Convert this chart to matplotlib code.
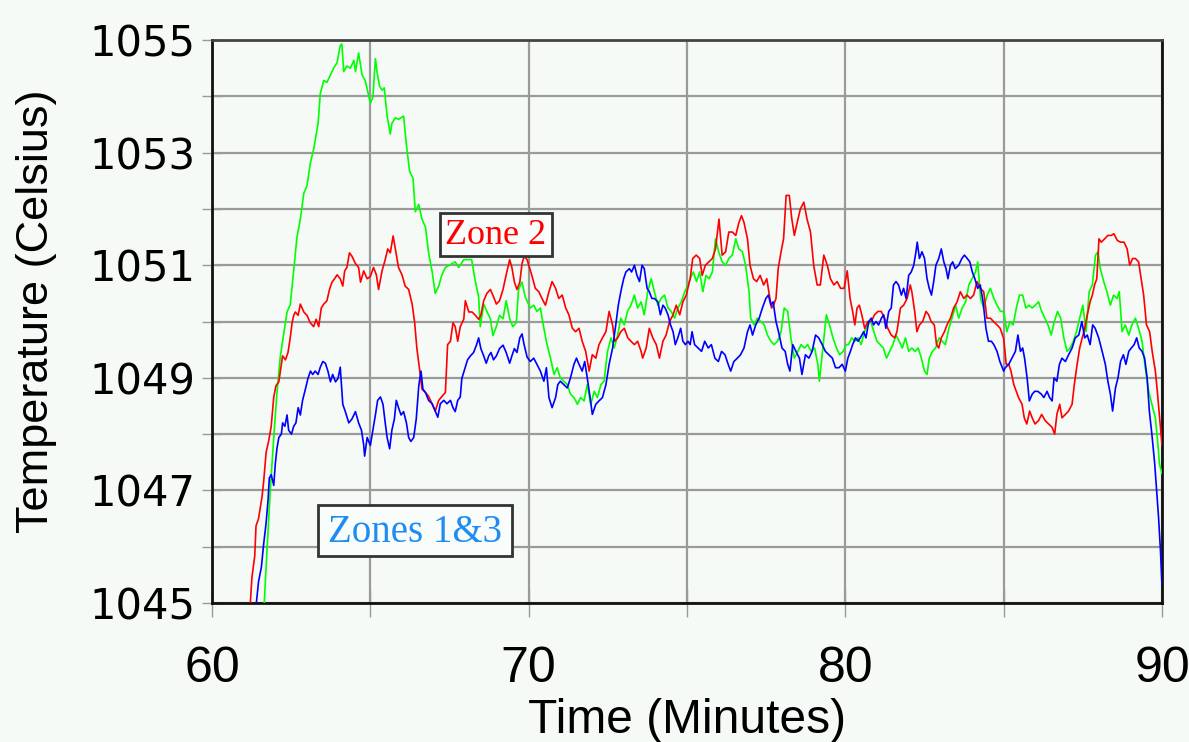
import matplotlib
matplotlib.use("Agg")
import matplotlib.pyplot as plt
from matplotlib.patches import Rectangle
from matplotlib.ticker import MultipleLocator

# ---- data (minutes, deg C) ----
green_t = [61.65, 61.74, 61.84, 61.95, 62.05, 62.16, 62.23, 62.37, 62.47, 62.58, 62.68, 62.79, 62.9, 63.0,
           63.1, 63.21, 63.35, 63.42, 63.53, 63.63, 63.74, 63.84, 63.95, 64.05, 64.1, 64.16, 64.26, 64.37,
           64.48, 64.53, 64.63, 64.74, 64.84, 65.0, 65.08, 65.16, 65.21, 65.29, 65.37, 65.44, 65.53, 65.63,
           65.68, 65.79, 65.89, 66.05, 66.14, 66.24, 66.35, 66.42, 66.53, 66.63, 66.74, 66.84, 66.95, 67.05,
           67.16, 67.26, 67.37, 67.68, 67.79, 67.95, 68.2, 68.32, 68.42, 68.47, 68.58, 68.68, 68.79, 68.87,
           68.98, 69.08, 69.19, 69.29, 69.4, 69.5, 69.61, 69.68, 69.79, 69.89, 70.05, 70.16, 70.26, 70.37,
           70.48, 70.58, 70.69, 70.8, 70.9, 71.0, 71.11, 71.22, 71.32, 71.43, 71.54, 71.64, 71.75, 71.85,
           71.96, 72.07, 72.17, 72.28, 72.38, 72.49, 72.6, 72.7, 72.81, 72.91, 73.02, 73.12, 73.23, 73.34,
           73.44, 73.55, 73.65, 73.76, 73.87, 73.97, 74.08, 74.18, 74.29, 74.4, 74.5, 74.61, 74.71, 74.82,
           74.93, 75.03, 75.1, 75.2, 75.3, 75.4, 75.5, 75.6, 75.7, 75.8, 75.9, 76.0, 76.11, 76.22, 76.32,
           76.43, 76.54, 76.64, 76.75, 76.85, 76.96, 77.01, 77.12, 77.22, 77.33, 77.44, 77.54, 77.65, 77.75,
           77.86, 77.97, 78.07, 78.18, 78.28, 78.39, 78.5, 78.6, 78.71, 78.81, 78.92, 79.03, 79.13, 79.18,
           79.29, 79.4, 79.5, 79.61, 79.72, 79.82, 79.93, 80.03, 80.1, 80.2, 80.3, 80.4, 80.5, 80.6, 80.7,
           80.8, 80.9, 81.0, 81.1, 81.2, 81.3, 81.4, 81.5, 81.6, 81.7, 81.8, 81.9, 82.0, 82.1, 82.2, 82.3,
           82.4, 82.5, 82.58, 82.65, 82.75, 82.85, 82.96, 83.06, 83.16, 83.27, 83.37, 83.48, 83.58, 83.69,
           83.8, 83.9, 84.0, 84.11, 84.18, 84.27, 84.37, 84.48, 84.58, 84.69, 84.79, 84.9, 85.0, 85.1, 85.2,
           85.3, 85.4, 85.5, 85.6, 85.7, 85.8, 85.9, 86.0, 86.1, 86.2, 86.3, 86.4, 86.5, 86.6, 86.7, 86.8,
           86.9, 87.0, 87.1, 87.2, 87.3, 87.4, 87.5, 87.6, 87.7, 87.8, 87.9, 87.98, 88.05, 88.16, 88.26,
           88.37, 88.47, 88.58, 88.65, 88.74, 88.84, 88.95, 89.05, 89.16, 89.26, 89.37, 89.47, 89.58, 89.68,
           89.79, 89.87, 89.92, 90.0]
green_temp = [1045.0, 1045.97, 1047.0, 1047.94, 1048.73, 1049.39, 1049.65, 1050.17, 1050.3, 1050.9, 1051.49,
              1051.82, 1052.28, 1052.41, 1052.8, 1053.06, 1053.52, 1054.05, 1054.28, 1054.25, 1054.38, 1054.5,
              1054.6, 1054.9, 1054.93, 1054.44, 1054.54, 1054.5, 1054.64, 1054.44, 1054.77, 1054.38, 1054.28,
              1053.88, 1053.98, 1054.67, 1054.44, 1054.18, 1054.11, 1054.15, 1053.65, 1053.33, 1053.52,
              1053.62, 1053.59, 1053.65, 1053.13, 1052.67, 1052.54, 1051.95, 1052.08, 1051.82, 1051.68,
              1051.22, 1050.89, 1050.5, 1050.63, 1050.83, 1050.96, 1051.06, 1050.96, 1051.1, 1051.1, 1050.7,
              1050.44, 1049.91, 1050.31, 1050.18, 1050.05, 1049.75, 1049.91, 1050.11, 1050.05, 1050.37,
              1050.05, 1049.91, 1049.98, 1050.57, 1050.7, 1050.44, 1050.24, 1050.29, 1050.18, 1050.24,
              1049.88, 1049.59, 1049.35, 1049.06, 1049.18, 1049.0, 1048.94, 1048.88, 1048.71, 1048.65,
              1048.53, 1048.65, 1048.59, 1048.88, 1048.53, 1048.76, 1048.65, 1048.88, 1048.94, 1049.47,
              1049.71, 1049.53, 1049.76, 1050.06, 1049.94, 1050.18, 1050.29, 1050.47, 1050.24, 1050.35,
              1050.12, 1050.53, 1050.76, 1050.53, 1050.29, 1050.41, 1050.47, 1050.24, 1050.18, 1050.06,
              1050.24, 1050.35, 1050.53, 1050.65, 1050.76, 1050.88, 1050.71, 1050.88, 1050.53, 1050.82,
              1050.76, 1050.88, 1051.47, 1051.24, 1051.06, 1051.0, 1051.12, 1051.18, 1051.47, 1051.29,
              1051.24, 1051.0, 1050.53, 1050.06, 1049.94, 1050.06, 1050.0, 1049.94, 1049.76, 1049.65,
              1049.59, 1049.65, 1049.82, 1050.24, 1050.18, 1049.71, 1049.35, 1049.47, 1049.59, 1049.53,
              1049.59, 1049.47, 1049.53, 1049.24, 1048.94, 1049.53, 1050.12, 1049.94, 1049.71, 1049.53,
              1049.41, 1049.47, 1049.59, 1049.59, 1049.71, 1049.65, 1049.71, 1049.59, 1049.82, 1049.94,
              1050.0, 1049.82, 1049.65, 1049.59, 1049.53, 1049.35, 1049.47, 1049.59, 1049.76, 1049.65,
              1049.53, 1049.71, 1049.47, 1049.53, 1049.47, 1049.53, 1049.35, 1049.12, 1049.06, 1049.35,
              1049.47, 1049.53, 1049.71, 1049.65, 1049.59, 1049.88, 1050.06, 1050.29, 1050.06, 1050.24,
              1050.35, 1050.65, 1050.76, 1050.88, 1051.06, 1050.41, 1050.24, 1050.47, 1050.59, 1050.41,
              1050.29, 1050.18, 1050.18, 1049.82, 1050.0, 1049.94, 1050.24, 1050.47, 1050.47, 1050.24,
              1050.29, 1050.24, 1050.29, 1050.35, 1050.18, 1050.06, 1049.94, 1049.76, 1050.0, 1050.18,
              1050.06, 1049.71, 1049.47, 1049.53, 1049.65, 1049.82, 1050.06, 1050.29, 1049.82, 1050.53,
              1050.65, 1051.18, 1051.24, 1050.94, 1050.71, 1050.53, 1050.29, 1050.47, 1050.41, 1050.53,
              1049.82, 1049.94, 1049.76, 1049.94, 1050.06, 1049.88, 1049.65, 1049.18, 1048.76, 1048.53,
              1048.29, 1047.82, 1047.47, 1047.3]

red_t = [61.21, 61.26, 61.35, 61.39, 61.47, 61.58, 61.63, 61.71, 61.79, 61.87, 61.95, 62.02, 62.11, 62.16,
         62.23, 62.32, 62.4, 62.47, 62.53, 62.58, 62.63, 62.72, 62.79, 62.9, 63.0, 63.1, 63.21, 63.29, 63.37,
         63.45, 63.53, 63.63, 63.71, 63.79, 63.87, 63.95, 64.05, 64.13, 64.19, 64.26, 64.34, 64.42, 64.53,
         64.63, 64.69, 64.79, 64.9, 65.0, 65.1, 65.19, 65.26, 65.37, 65.47, 65.55, 65.63, 65.72, 65.79, 65.89,
         66.0, 66.1, 66.21, 66.32, 66.4, 66.47, 66.56, 66.63, 66.74, 66.84, 66.95, 67.05, 67.16, 67.26, 67.37,
         67.44, 67.53, 67.61, 67.68, 67.76, 67.84, 67.95, 68.0, 68.11, 68.21, 68.32, 68.42, 68.49, 68.58,
         68.68, 68.79, 68.89, 68.98, 69.08, 69.19, 69.29, 69.4, 69.47, 69.55, 69.63, 69.72, 69.79, 69.86,
         69.95, 70.1, 70.21, 70.32, 70.42, 70.53, 70.64, 70.74, 70.85, 70.95, 71.06, 71.17, 71.27, 71.38,
         71.48, 71.59, 71.69, 71.8, 71.91, 72.01, 72.12, 72.22, 72.33, 72.44, 72.54, 72.65, 72.72, 72.81,
         72.91, 73.02, 73.13, 73.23, 73.34, 73.44, 73.55, 73.6, 73.71, 73.81, 73.92, 74.03, 74.13, 74.24,
         74.34, 74.45, 74.56, 74.66, 74.77, 74.87, 74.98, 75.03, 75.1, 75.18, 75.29, 75.4, 75.48, 75.58,
         75.69, 75.8, 75.9, 76.01, 76.11, 76.22, 76.32, 76.43, 76.54, 76.64, 76.72, 76.8, 76.91, 76.99, 77.1,
         77.2, 77.31, 77.42, 77.52, 77.6, 77.67, 77.73, 77.81, 77.88, 77.97, 78.05, 78.13, 78.23, 78.31,
         78.39, 78.48, 78.58, 78.69, 78.79, 78.9, 79.0, 79.11, 79.21, 79.32, 79.43, 79.53, 79.64, 79.74,
         79.85, 79.96, 80.06, 80.15, 80.23, 80.3, 80.37, 80.44, 80.52, 80.61, 80.71, 80.82, 80.92, 81.03,
         81.13, 81.24, 81.34, 81.45, 81.56, 81.63, 81.74, 81.84, 81.95, 82.05, 82.1, 82.19, 82.26, 82.34,
         82.44, 82.55, 82.63, 82.71, 82.81, 82.88, 82.95, 83.03, 83.13, 83.21, 83.32, 83.42, 83.53, 83.63,
         83.74, 83.84, 83.95, 84.05, 84.16, 84.26, 84.37, 84.47, 84.58, 84.68, 84.79, 84.89, 85.0, 85.08,
         85.16, 85.23, 85.32, 85.4, 85.47, 85.58, 85.65, 85.73, 85.82, 85.9, 85.99, 86.1, 86.2, 86.31, 86.42,
         86.53, 86.61, 86.68, 86.77, 86.84, 86.95, 87.05, 87.16, 87.23, 87.32, 87.4, 87.48, 87.56, 87.64,
         87.73, 87.8, 87.87, 87.94, 88.01, 88.08, 88.19, 88.29, 88.4, 88.48, 88.59, 88.69, 88.8, 88.9, 88.98,
         89.07, 89.16, 89.26, 89.34, 89.42, 89.51, 89.61, 89.69, 89.79, 89.86, 89.95, 90.0]
red_temp = [1045.0, 1045.45, 1045.84, 1046.37, 1046.5, 1046.89, 1047.15, 1047.68, 1047.88, 1048.14, 1048.66,
            1048.86, 1048.93, 1049.12, 1049.39, 1049.32, 1049.45, 1049.71, 1049.98, 1050.11, 1050.17,
            1050.11, 1050.31, 1050.17, 1050.11, 1049.98, 1049.91, 1050.04, 1049.91, 1050.24, 1050.31,
            1050.37, 1050.57, 1050.7, 1050.76, 1050.83, 1050.76, 1050.63, 1050.9, 1050.96, 1051.22, 1051.16,
            1051.03, 1050.96, 1050.7, 1050.9, 1050.76, 1050.8, 1050.96, 1050.83, 1050.57, 1050.9, 1051.1,
            1051.29, 1051.22, 1051.52, 1051.29, 1050.96, 1050.83, 1050.63, 1050.57, 1050.31, 1049.98,
            1049.52, 1049.13, 1048.8, 1048.74, 1048.67, 1048.54, 1048.41, 1048.6, 1048.67, 1048.74, 1049.59,
            1049.65, 1049.98, 1049.91, 1049.65, 1049.91, 1050.04, 1050.37, 1050.17, 1050.17, 1050.11,
            1050.04, 1050.11, 1050.37, 1050.5, 1050.57, 1050.44, 1050.31, 1050.37, 1050.57, 1050.83, 1051.1,
            1050.96, 1050.7, 1050.57, 1050.7, 1051.03, 1051.16, 1051.1, 1050.82, 1050.59, 1050.53, 1050.41,
            1050.29, 1050.53, 1050.71, 1050.59, 1050.41, 1050.47, 1050.24, 1050.12, 1049.88, 1049.82,
            1049.88, 1049.65, 1049.47, 1049.12, 1049.41, 1049.35, 1049.59, 1049.71, 1049.82, 1050.18,
            1049.94, 1049.65, 1049.71, 1049.82, 1049.88, 1049.71, 1049.65, 1049.59, 1049.65, 1049.47,
            1049.35, 1049.53, 1049.88, 1049.71, 1049.59, 1049.35, 1049.65, 1049.76, 1050.0, 1050.12,
            1050.29, 1050.12, 1050.35, 1050.47, 1050.6, 1050.76, 1051.12, 1051.18, 1051.12, 1050.82, 1051.0,
            1051.06, 1051.12, 1051.29, 1051.82, 1051.18, 1051.24, 1051.59, 1051.59, 1051.53, 1051.76,
            1051.88, 1051.76, 1051.47, 1051.0, 1050.76, 1050.71, 1050.82, 1050.65, 1050.76, 1050.47,
            1050.24, 1050.29, 1050.41, 1050.94, 1051.24, 1051.47, 1052.24, 1052.24, 1051.82, 1051.53,
            1051.76, 1052.0, 1052.12, 1051.82, 1051.59, 1051.0, 1050.65, 1050.65, 1051.18, 1051.0, 1050.76,
            1050.65, 1050.71, 1050.59, 1050.59, 1050.9, 1050.41, 1050.18, 1049.94, 1050.24, 1050.29,
            1050.12, 1049.88, 1050.0, 1050.0, 1050.12, 1050.18, 1050.18, 1050.06, 1049.88, 1049.76,
            1049.71, 1049.82, 1050.24, 1050.29, 1050.41, 1050.65, 1050.53, 1050.18, 1049.82, 1049.94,
            1050.0, 1050.18, 1050.12, 1050.0, 1049.94, 1049.59, 1049.53, 1049.71, 1049.82, 1049.94, 1050.06,
            1050.24, 1050.35, 1050.53, 1050.41, 1050.47, 1050.41, 1050.47, 1050.71, 1050.59, 1050.53,
            1050.06, 1050.06, 1050.0, 1049.94, 1049.88, 1049.7, 1049.24, 1049.24, 1049.12, 1048.88, 1048.76,
            1048.65, 1048.53, 1048.29, 1048.18, 1048.41, 1048.29, 1048.18, 1048.24, 1048.35, 1048.24,
            1048.18, 1048.12, 1048.0, 1048.35, 1048.53, 1048.29, 1048.35, 1048.41, 1048.53, 1048.88,
            1049.24, 1049.53, 1049.71, 1049.88, 1050.12, 1050.35, 1050.47, 1050.65, 1050.76, 1051.47,
            1051.41, 1051.47, 1051.53, 1051.53, 1051.56, 1051.44, 1051.41, 1051.41, 1051.29, 1051.0,
            1051.12, 1051.12, 1051.06, 1050.76, 1050.47, 1049.94, 1049.82, 1049.47, 1049.12, 1048.71,
            1048.12, 1047.8]

blue_t = [61.4, 61.47, 61.56, 61.63, 61.71, 61.77, 61.81, 61.87, 61.95, 62.0, 62.05, 62.11, 62.19, 62.23,
          62.3, 62.37, 62.42, 62.51, 62.58, 62.65, 62.72, 62.79, 62.86, 62.95, 63.03, 63.11, 63.18, 63.26,
          63.35, 63.42, 63.5, 63.58, 63.66, 63.74, 63.81, 63.9, 63.98, 64.05, 64.13, 64.21, 64.32, 64.42,
          64.53, 64.63, 64.72, 64.79, 64.82, 64.9, 65.0, 65.08, 65.16, 65.23, 65.32, 65.4, 65.47, 65.53, 65.61,
          65.68, 65.76, 65.82, 65.89, 65.97, 66.05, 66.14, 66.21, 66.28, 66.37, 66.45, 66.53, 66.6, 66.66,
          66.74, 66.84, 66.95, 67.05, 67.13, 67.21, 67.32, 67.42, 67.53, 67.61, 67.68, 67.76, 67.84, 67.89,
          68.0, 68.07, 68.16, 68.26, 68.35, 68.42, 68.49, 68.58, 68.66, 68.74, 68.81, 68.89, 68.98, 69.08,
          69.19, 69.29, 69.4, 69.47, 69.55, 69.63, 69.72, 69.79, 69.86, 69.95, 70.05, 70.16, 70.26, 70.37,
          70.48, 70.56, 70.64, 70.74, 70.85, 70.92, 71.0, 71.11, 71.22, 71.32, 71.43, 71.51, 71.59, 71.69,
          71.77, 71.85, 71.94, 72.01, 72.12, 72.22, 72.33, 72.44, 72.54, 72.65, 72.75, 72.83, 72.91, 73.0,
          73.07, 73.18, 73.25, 73.34, 73.42, 73.5, 73.58, 73.65, 73.74, 73.81, 73.89, 73.97, 74.08, 74.16,
          74.24, 74.31, 74.4, 74.48, 74.56, 74.63, 74.71, 74.8, 74.87, 74.95, 75.03, 75.1, 75.16, 75.24,
          75.35, 75.46, 75.56, 75.67, 75.77, 75.88, 75.99, 76.09, 76.2, 76.3, 76.38, 76.48, 76.59, 76.69,
          76.8, 76.91, 76.99, 77.07, 77.17, 77.28, 77.38, 77.49, 77.57, 77.65, 77.72, 77.81, 77.89, 78.0,
          78.1, 78.18, 78.25, 78.34, 78.44, 78.55, 78.63, 78.74, 78.85, 78.95, 79.06, 79.16, 79.27, 79.37,
          79.48, 79.59, 79.69, 79.8, 79.9, 80.0, 80.08, 80.16, 80.23, 80.32, 80.4, 80.47, 80.58, 80.65,
          80.74, 80.82, 80.89, 80.97, 81.05, 81.14, 81.21, 81.28, 81.37, 81.45, 81.52, 81.6, 81.68, 81.77,
          81.84, 81.92, 82.0, 82.08, 82.16, 82.23, 82.27, 82.34, 82.42, 82.5, 82.58, 82.65, 82.72, 82.79,
          82.86, 82.95, 83.03, 83.11, 83.18, 83.24, 83.32, 83.39, 83.47, 83.58, 83.68, 83.76, 83.85, 83.93,
          84.01, 84.09, 84.18, 84.26, 84.35, 84.44, 84.52, 84.61, 84.69, 84.79, 84.88, 85.0, 85.05, 85.16,
          85.26, 85.37, 85.45, 85.53, 85.6, 85.66, 85.74, 85.81, 85.9, 85.98, 86.08, 86.19, 86.27, 86.37,
          86.45, 86.53, 86.59, 86.68, 86.76, 86.84, 86.95, 87.05, 87.16, 87.26, 87.37, 87.47, 87.56, 87.64,
          87.73, 87.81, 87.89, 88.0, 88.11, 88.21, 88.29, 88.37, 88.44, 88.53, 88.61, 88.69, 88.78, 88.86,
          88.95, 89.03, 89.12, 89.2, 89.28, 89.37, 89.45, 89.53, 89.6, 89.68, 89.77, 89.83, 89.89, 89.95, 90.0]
blue_temp = [1045.0, 1045.38, 1045.64, 1046.04, 1046.43, 1046.83, 1047.22, 1047.28, 1047.09, 1047.48,
             1047.74, 1047.94, 1048.0, 1048.2, 1048.14, 1048.34, 1048.07, 1048.0, 1048.14, 1048.2, 1048.47,
             1048.34, 1048.6, 1048.8, 1048.99, 1049.12, 1049.06, 1049.12, 1049.06, 1049.19, 1049.29,
             1049.26, 1049.12, 1048.93, 1049.06, 1048.93, 1048.99, 1049.19, 1048.53, 1048.4, 1048.2,
             1048.27, 1048.4, 1048.2, 1048.07, 1047.81, 1047.61, 1047.94, 1047.8, 1048.07, 1048.34, 1048.6,
             1048.66, 1048.53, 1048.2, 1047.94, 1047.74, 1048.07, 1048.27, 1048.6, 1048.47, 1048.34, 1048.4,
             1048.2, 1047.94, 1047.87, 1047.94, 1048.27, 1048.86, 1049.12, 1048.8, 1048.74, 1048.6, 1048.54,
             1048.41, 1048.3, 1048.54, 1048.6, 1048.54, 1048.6, 1048.47, 1048.4, 1048.6, 1048.66, 1048.99,
             1049.19, 1049.32, 1049.39, 1049.45, 1049.58, 1049.71, 1049.52, 1049.39, 1049.26, 1049.39,
             1049.45, 1049.32, 1049.39, 1049.52, 1049.58, 1049.45, 1049.26, 1049.39, 1049.52, 1049.45,
             1049.71, 1049.78, 1049.58, 1049.37, 1049.29, 1049.35, 1049.24, 1049.12, 1048.94, 1049.18,
             1048.65, 1048.47, 1048.65, 1048.88, 1048.94, 1048.88, 1048.82, 1049.0, 1049.24, 1049.35,
             1049.24, 1049.12, 1049.29, 1049.0, 1048.65, 1048.35, 1048.53, 1048.59, 1048.65, 1048.88,
             1049.24, 1049.53, 1049.94, 1050.29, 1050.53, 1050.76, 1050.88, 1050.94, 1050.88, 1051.0,
             1050.82, 1050.71, 1051.0, 1050.94, 1050.59, 1050.53, 1050.41, 1050.41, 1050.35, 1050.12,
             1050.29, 1050.24, 1050.12, 1049.94, 1049.82, 1049.59, 1049.71, 1049.88, 1049.65, 1049.59,
             1049.65, 1049.59, 1049.82, 1049.59, 1049.53, 1049.47, 1049.65, 1049.53, 1049.59, 1049.35,
             1049.29, 1049.47, 1049.41, 1049.24, 1049.12, 1049.29, 1049.35, 1049.41, 1049.53, 1049.82,
             1049.94, 1049.76, 1049.94, 1050.06, 1050.24, 1050.41, 1050.47, 1050.29, 1050.35, 1050.0,
             1049.82, 1049.53, 1049.47, 1049.24, 1049.12, 1049.59, 1049.47, 1049.35, 1049.06, 1049.41,
             1049.35, 1049.47, 1049.76, 1049.71, 1049.59, 1049.47, 1049.41, 1049.35, 1049.18, 1049.18,
             1049.24, 1049.12, 1049.35, 1049.47, 1049.59, 1049.71, 1049.65, 1049.71, 1049.82, 1049.71,
             1050.0, 1050.06, 1049.94, 1050.0, 1049.94, 1050.06, 1050.12, 1049.88, 1050.18, 1050.24,
             1050.65, 1050.71, 1050.65, 1050.47, 1050.59, 1050.41, 1050.82, 1050.88, 1051.0, 1051.24,
             1051.41, 1051.12, 1051.24, 1051.12, 1050.76, 1050.59, 1050.47, 1050.71, 1051.0, 1051.12,
             1051.29, 1051.06, 1050.94, 1050.76, 1051.0, 1051.06, 1050.94, 1051.0, 1051.12, 1051.18,
             1051.12, 1051.06, 1050.88, 1050.76, 1050.59, 1050.65, 1050.35, 1049.88, 1049.65, 1049.65,
             1049.59, 1049.47, 1049.29, 1049.12, 1049.18, 1049.24, 1049.35, 1049.47, 1049.76, 1049.47,
             1049.53, 1049.35, 1049.0, 1048.59, 1048.71, 1048.76, 1048.76, 1048.71, 1048.65, 1048.76,
             1048.65, 1048.59, 1049.0, 1048.94, 1049.24, 1049.35, 1049.29, 1049.41, 1049.53, 1049.71,
             1049.76, 1050.0, 1049.71, 1049.76, 1049.59, 1049.94, 1049.88, 1049.71, 1049.47, 1049.24,
             1048.94, 1048.71, 1048.41, 1048.82, 1049.0, 1049.29, 1049.41, 1049.24, 1049.47, 1049.53,
             1049.59, 1049.71, 1049.53, 1049.47, 1049.35, 1049.0, 1048.41, 1048.0, 1047.47, 1047.0,
             1046.53, 1045.94, 1045.3]

x_ticks = [60, 70, 80, 90]
y_ticks = [1045, 1047, 1049, 1051, 1053, 1055]

BG = "#f5faf7"
GRID = "#9a9a9a"

fig = plt.figure(figsize=(11.89, 7.42), dpi=100, facecolor=BG)
ax = fig.add_axes([0.1783, 0.1873, 0.7990, 0.7587], facecolor=BG)

ax.plot(green_t, green_temp, color="#00ff00", lw=1.2, zorder=3)
ax.plot(red_t, red_temp, color="#ff0000", lw=1.2, zorder=4)
ax.plot(blue_t, blue_temp, color="#0000ff", lw=1.2, zorder=5)

ax.set_xlim(60, 90)
ax.set_ylim(1045, 1055)
ax.set_xticks(x_ticks)
ax.set_yticks(y_ticks)
ax.xaxis.set_minor_locator(MultipleLocator(5))
ax.yaxis.set_minor_locator(MultipleLocator(1))
ax.grid(True, which="both", color=GRID, lw=1.6, zorder=1)
ax.set_axisbelow(True)

ax.tick_params(axis="y", which="both", direction="inout", length=14, width=1, color=GRID,
               labelsize=30, pad=5)
ax.tick_params(axis="x", which="both", direction="inout", length=20, width=1, color=GRID,
               labelsize=36, pad=21)
for lab in ax.get_yticklabels():
    lab.set_family("DejaVu Sans")
for lab in ax.get_xticklabels():
    lab.set_family("Liberation Sans")

for side in ["left", "bottom", "right"]:
    ax.spines[side].set_color("#111111")
    ax.spines[side].set_linewidth(2)
ax.spines["top"].set_color("#444444")
ax.spines["top"].set_linewidth(2)

ax.set_xlabel("Time (Minutes)", family="Liberation Sans", fontsize=34.5)
ax.set_ylabel("Temperature (Celsius)", family="Liberation Sans", fontsize=32.5)
ax.xaxis.set_label_coords(0.5, -0.168)
ax.yaxis.set_label_coords(-0.163, 0.519)

# annotation boxes
ax.add_patch(Rectangle((67.2, 1051.17), 3.53, 0.76, facecolor="#f8fcfa", edgecolor="#333333",
                       lw=2, zorder=6))
ax.text(68.95, 1051.53, "Zone 2", color="#ff0000", family="Liberation Serif", fontsize=26,
        ha="center", va="center", zorder=7)
ax.add_patch(Rectangle((63.35, 1045.83), 6.12, 0.91, facecolor="#f8fcfa", edgecolor="#333333",
                       lw=2, zorder=6))
ax.text(66.41, 1046.26, "Zones 1&3", color="#1e8cf0", family="Liberation Serif", fontsize=28,
        ha="center", va="center", zorder=7)

fig.savefig("out.png", dpi=100, facecolor=BG)
